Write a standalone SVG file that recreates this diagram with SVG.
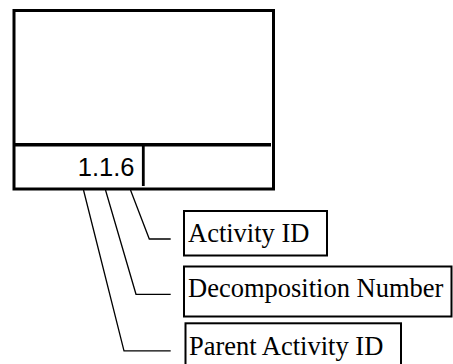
<svg xmlns="http://www.w3.org/2000/svg" width="453" height="364" viewBox="0 0 453 364">
<style>
.conn{fill:none;stroke:#000;stroke-width:1.3}
.lbl{fill:#fff;stroke:#000;stroke-width:2}
.lt{font-family:"Liberation Serif","Times New Roman",serif;font-size:26.5px;fill:#000}
.num{font-family:"Liberation Sans",Arial,sans-serif;font-size:25.5px;fill:#000}
</style>
<rect width="453" height="364" fill="#fff"/>
<g id="activity-box">
<rect x="14" y="10.5" width="259.5" height="178.5" fill="#fff" stroke="#000" stroke-width="3"/>
<line x1="14" y1="144.7" x2="271" y2="144.7" stroke="#000" stroke-width="3.5"/>
<line x1="143.3" y1="144.7" x2="143.3" y2="186" stroke="#000" stroke-width="2.8"/>
<text class="num" x="134.5" y="176" text-anchor="end">1.1.6</text>
</g>
<g id="connectors">
<polyline class="conn" points="130.5,190 149.3,239 170.7,239"/>
<polyline class="conn" points="105.5,190 136,294.3 170.7,294.3"/>
<polyline class="conn" points="83.5,190 124,350.8 170.7,350.8"/>
</g>
<g id="label-activity-id">
<rect class="lbl" x="184" y="211" width="143" height="44.5"/>
<text class="lt" x="188" y="242">Activity ID</text>
</g>
<g id="label-decomposition-number">
<rect class="lbl" x="184" y="266.5" width="267.5" height="50"/>
<text class="lt" x="188" y="296.7">Decomposition Number</text>
</g>
<g id="label-parent-activity-id">
<rect class="lbl" x="185.5" y="323.3" width="215.5" height="45"/>
<text class="lt" x="189" y="355">Parent Activity ID</text>
</g>
</svg>
